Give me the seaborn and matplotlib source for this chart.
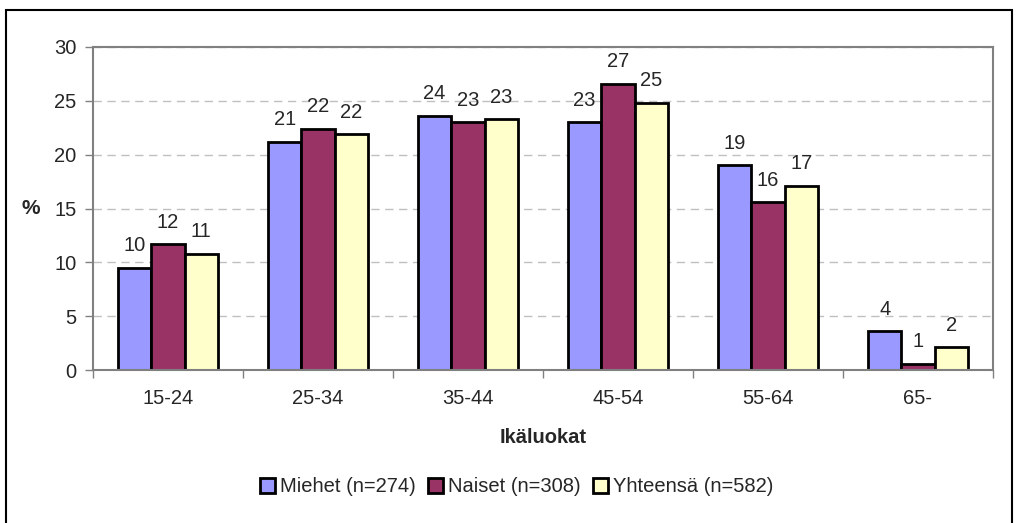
import pandas as pd
import seaborn as sns
from matplotlib import pyplot as plt
from matplotlib.patches import Rectangle

ikaluokat = ["15-24", "25-34", "35-44", "45-54", "55-64", "65-"]
miehet = [9.5, 21.2, 23.6, 23.0, 19.0, 3.6]
naiset = [11.7, 22.4, 23.0, 26.6, 15.6, 0.6]
yhteensa = [10.8, 21.9, 23.3, 24.8, 17.1, 2.1]
sarjat = ["Miehet (n=274)", "Naiset (n=308)", "Yhteensä (n=582)"]
varit = ["#9999FF", "#993366", "#FFFFCC"]

df = pd.DataFrame({"Ikäluokat": ikaluokat,
                   sarjat[0]: miehet,
                   sarjat[1]: naiset,
                   sarjat[2]: yhteensa})
df = df.melt(id_vars="Ikäluokat", var_name="Ryhmä", value_name="Osuus")

sns.set_style("white")
plt.rcParams["font.family"] = ["Liberation Sans", "DejaVu Sans"]
fs = 14.5

fig = plt.figure(figsize=(10.16, 5.23), dpi=100)
ax = fig.add_axes([93 / 1016, 1 - 370 / 523, 900 / 1016, 323 / 523])

sns.barplot(data=df, x="Ikäluokat", y="Osuus", hue="Ryhmä",
            palette=varit, width=0.667, edgecolor="black", linewidth=2,
            saturation=1, ax=ax)

for cont in ax.containers:
    ax.bar_label(cont, fmt="%.0f", padding=9, fontsize=fs)

ax.set_ylim(0, 30)
ax.set_xlim(-0.5, 5.5)
ax.set_yticks(range(0, 31, 5))
ax.yaxis.grid(True, color="#C0C0C0", linestyle=(0, (6, 4)), linewidth=1)
ax.set_axisbelow(True)

ax.set_xticks([i - 0.5 for i in range(7)], minor=False)
ax.set_xticklabels([])
ax.set_xticks(range(6), minor=True)
ax.set_xticklabels(ikaluokat, minor=True)
ax.tick_params(axis="x", which="major", direction="out", length=6,
               color="#808080", width=1, bottom=True)
ax.tick_params(axis="x", which="minor", length=0, pad=14, labelsize=fs)
ax.tick_params(axis="y", direction="out", length=6, color="#808080",
               width=1, left=True, labelsize=fs, pad=6)

for s in ax.spines.values():
    s.set_color("#808080")
    s.set_linewidth(1.5)

ax.set_xlabel("Ikäluokat", fontweight="bold", fontsize=fs, labelpad=14)
ax.set_ylabel("%", fontweight="bold", fontsize=15, rotation=0, labelpad=17,
              va="center")

handles, labels = ax.get_legend_handles_labels()
ax.legend(handles, labels, loc="center", bbox_to_anchor=(517 / 1016, 1 - 487 / 523),
          bbox_transform=fig.transFigure, ncol=3, frameon=False,
          handlelength=0.75, handleheight=0.75, handletextpad=0.25,
          columnspacing=0.6, fontsize=fs)

fig.patches.append(Rectangle((6 / 1016, -0.05), 1006 / 1016, 1.05 - 10 / 523,
                             transform=fig.transFigure, fill=False,
                             edgecolor="black", linewidth=1.5))

fig.savefig("out.png", dpi=100)
